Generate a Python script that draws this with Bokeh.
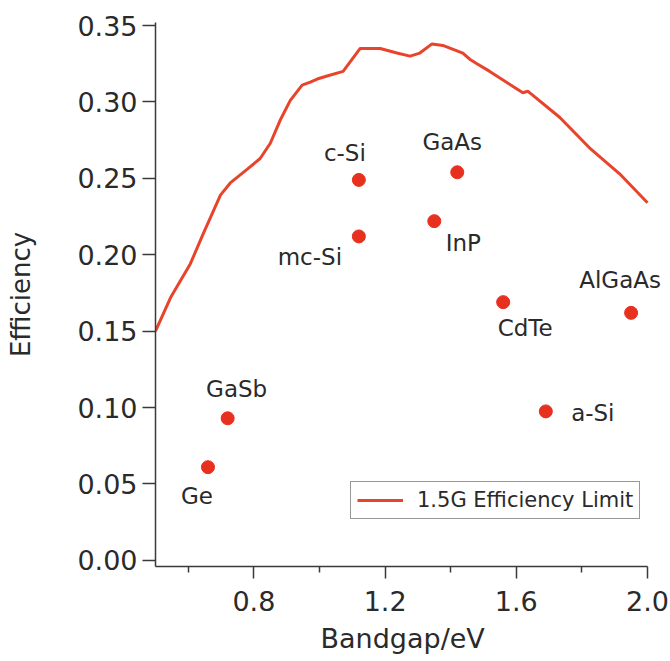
from bokeh.plotting import figure
from bokeh.models import (FixedTicker, PrintfTickFormatter, Range1d, Legend,
                          LegendItem, ColumnDataSource, LabelSet, Title)
from bokeh.core.properties import value
from bokeh.embed import file_html
from bokeh.resources import INLINE

# ---- data ----
materials = ["Ge", "GaSb", "c-Si", "mc-Si", "GaAs", "InP", "CdTe", "AlGaAs", "a-Si"]
bandgap = [0.66, 0.72, 1.12, 1.12, 1.42, 1.35, 1.56, 1.95, 1.69]
efficiency = [0.061, 0.093, 0.249, 0.212, 0.254, 0.222, 0.169, 0.162, 0.0975]

limit_bandgap = [0.50, 0.546, 0.606, 0.646, 0.698, 0.728, 0.780, 0.819, 0.850,
                 0.880, 0.911, 0.947, 0.972, 0.993, 1.023, 1.072, 1.124, 1.185,
                 1.236, 1.276, 1.306, 1.343, 1.376, 1.437, 1.458, 1.480, 1.519,
                 1.620, 1.635, 1.647, 1.732, 1.823, 1.915, 2.0]
limit_efficiency = [0.150, 0.172, 0.194, 0.214, 0.239, 0.247, 0.256, 0.263, 0.273,
                    0.288, 0.301, 0.311, 0.313, 0.315, 0.317, 0.320, 0.335, 0.335,
                    0.332, 0.330, 0.332, 0.338, 0.337, 0.332, 0.328, 0.325, 0.320,
                    0.306, 0.307, 0.305, 0.290, 0.270, 0.253, 0.234]

y_ticks = [0.00, 0.05, 0.10, 0.15, 0.20, 0.25, 0.30, 0.35]
x_ticks = [0.8, 1.2, 1.6, 2.0]
x_minor_ticks = [0.6, 1.0, 1.4, 1.8]
x_title = "Bandgap/eV"
y_title = "Efficiency"

# label placement (screen pixel offsets from each point; positive dy = up)
label_dx = [-11, 9, -14, -49, -5, 29, 22, -11, 47]
label_dy = [-29, 29, 27, -21, 30, -22, -26, 33, -2]

FONT = "DejaVu Sans"
TXT = "#2a2a2a"
AX = "#3a3a3a"
RED_LINE = "#e8432b"
RED_DOT = "#e8301e"

# frame runs to the window edge so the AlGaAs label is not clipped;
# the x axis itself is bounded to 0.5..2.0
p = figure(width=670, height=661, x_range=Range1d(0.5, 0.5 + 515 / 328.0),
           y_range=Range1d(-0.004, 0.352), output_backend="svg",
           toolbar_location=None, min_border_left=155, min_border_right=0,
           min_border_top=22, min_border_bottom=95)
p.background_fill_color = "white"
p.border_fill_color = "white"
p.outline_line_color = None
p.xgrid.visible = False
p.ygrid.visible = False

line = p.line(limit_bandgap, limit_efficiency, line_color=RED_LINE, line_width=3)

src = ColumnDataSource(dict(x=bandgap, y=efficiency, name=materials,
                            dx=label_dx, dy=label_dy))
p.scatter("x", "y", source=src, size=13, fill_color=RED_DOT, line_color=RED_DOT)
labels = LabelSet(x="x", y="y", text="name", source=src, x_offset="dx", y_offset="dy",
                  text_align="center", text_baseline="middle",
                  text_font=value(FONT), text_font_size=value("23px"),
                  text_color=value(TXT))
p.add_layout(labels)

# axes
xa = p.xaxis[0]
xa.ticker = FixedTicker(ticks=x_ticks, minor_ticks=x_minor_ticks)
xa.formatter = PrintfTickFormatter(format="%.1f")
xa.bounds = (0.5, 2.0)
ya = p.yaxis[0]
ya.ticker = FixedTicker(ticks=y_ticks, minor_ticks=[])
ya.formatter = PrintfTickFormatter(format="%.2f")

for ax in (xa, ya):
    ax.axis_line_color = AX
    ax.axis_line_width = 1.5
    ax.major_tick_line_color = AX
    ax.major_tick_line_width = 1.5
    ax.minor_tick_line_color = AX
    ax.minor_tick_line_width = 1.5
    ax.major_tick_in = 0
    ax.minor_tick_in = 0
    ax.major_label_text_font = FONT
    ax.major_label_text_font_size = "27px"
    ax.major_label_text_color = TXT
    ax.axis_label_text_font = FONT
    ax.axis_label_text_font_style = "normal"
    ax.axis_label_text_color = TXT

xa.major_tick_out = 12
xa.minor_tick_out = 6
xa.major_label_standoff = 12

# x axis title centred under the 0.5..2.0 span of the axis
xt = Title(text=x_title, align="left", offset=165, standoff=14,
           text_font=FONT, text_font_size="27px", text_font_style="normal",
           text_color=TXT)
p.add_layout(xt, "below")

ya.axis_label = y_title
ya.axis_label_text_font_size = "26px"
ya.major_tick_out = 13
ya.minor_tick_out = 0
ya.major_label_standoff = 5
ya.axis_label_standoff = 38

legend = Legend(items=[LegendItem(label="1.5G Efficiency Limit", renderers=[line])],
                location=(195, 47))
legend.border_line_color = "#333333"
legend.border_line_width = 1.5
legend.padding = 6
legend.margin = 0
legend.spacing = 0
legend.glyph_width = 46
legend.glyph_height = 24
legend.label_standoff = 14
legend.label_text_font = FONT
legend.label_text_font_size = "21px"
legend.label_text_color = TXT
legend.background_fill_color = "white"
legend.background_fill_alpha = 1
p.add_layout(legend)

open("out.html", "w").write(file_html(p, INLINE))
